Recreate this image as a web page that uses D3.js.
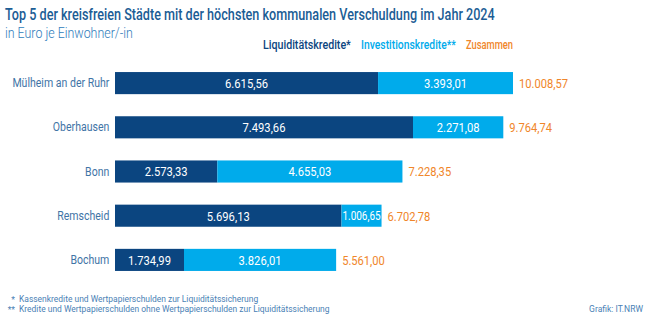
<!DOCTYPE html>
<html><head><meta charset="utf-8">
<script src="https://cdn.jsdelivr.net/npm/d3@7"></script>
<style>body{margin:0;background:#fff}svg{display:block}text{font-family:Roboto,"Open Sans",sans-serif}</style>
</head><body>
<svg id="c" width="650" height="321"></svg>
<script>
const categories = ["Mülheim an der Ruhr","Oberhausen","Bonn","Remscheid","Bochum"];
const liquiditaet = [6615.56, 7493.66, 2573.33, 5696.13, 1734.99];
const investition = [3393.01, 2271.08, 4655.03, 1006.65, 3826.01];
const zusammen = [10008.57, 9764.74, 7228.35, 6702.78, 5561.00];
const seriesNames = ["Liquiditätskredite*","Investitionskredite**","Zusammen"];

const C = {dark:"#0b4580", light:"#00abeb", orange:"#f0862a", label:"#3f74a6", title:"#1b5d95", foot:"#4a7fb5"};
const svg = d3.select("#c");
const fmt = v => { const s = d3.format(",.2f")(v); return s.replace(/,/g,"#").replace(".",",").replace(/#/g,"."); };

// horizontally condense a text about its anchor x (reference uses a narrow typeface)
function squeeze(sel, k){
  sel.each(function(){
    const ax = +d3.select(this).attr("x") || 0;
    const prev = d3.select(this).attr("transform") || "";
    d3.select(this).attr("transform", `${prev} translate(${ax},0) scale(${k},1) translate(${-ax},0)`);
  });
}
const widthOf = sel => sel.node().getComputedTextLength();

const x = d3.scaleLinear().domain([0, 10008.57]).range([115, 513]);
const y = d3.scaleBand().domain(categories).range([61, 282]).paddingInner(0.5).paddingOuter(0.25);

const title = svg.append("text").attr("x",5).attr("y",20).attr("fill",C.title).attr("font-size",16.5).attr("font-weight",500).text("Top 5 der kreisfreien Städte mit der höchsten kommunalen Verschuldung im Jahr 2024");
squeeze(title, 490/widthOf(title));
const sub = svg.append("text").attr("x",5).attr("y",38).attr("fill","#2f7cbb").attr("font-size",14.5).attr("font-weight",300).text("in Euro je Einwohner/-in");
squeeze(sub, 128/widthOf(sub));

const leg = [{t:seriesNames[0],c:C.dark,x:263,w:88},{t:seriesNames[1],c:C.light,x:361,w:95},{t:seriesNames[2],c:C.orange,x:466,w:47}];
svg.selectAll(".leg").data(leg).join("text").attr("class","leg").attr("x",d=>d.x).attr("y",49).attr("fill",d=>d.c).attr("font-size",13).attr("font-weight",500).text(d=>d.t)
  .each(function(d){ squeeze(d3.select(this), d.w/this.getComputedTextLength()); });

const rows = categories.map((c,i)=>({c, a:liquiditaet[i], b:investition[i], t:zusammen[i]}));
const g = svg.append("g");
g.selectAll(".bd").data(rows).join("rect").attr("class","bd").attr("x",x(0)).attr("y",d=>y(d.c)).attr("width",d=>x(d.a)-x(0)).attr("height",y.bandwidth()).attr("fill",C.dark);
g.selectAll(".bl").data(rows).join("rect").attr("class","bl").attr("x",d=>x(d.a)).attr("y",d=>y(d.c)).attr("width",d=>x(d.a+d.b)-x(d.a)).attr("height",y.bandwidth()).attr("fill",C.light);

const mid = d=>y(d.c)+y.bandwidth()/2;
const la = g.selectAll(".la").data(rows).join("text").attr("class","la").attr("x",d=>(x(0)+x(d.a))/2).attr("y",mid).attr("dy","0.36em").attr("text-anchor","middle").attr("fill","#fff").attr("font-size",13.5).text(d=>fmt(d.a));
const kv = 43/widthOf(la);
squeeze(la, kv);
const lb = g.selectAll(".lb").data(rows).join("text").attr("class","lb").attr("x",d=>(x(d.a)+x(d.a+d.b))/2).attr("y",mid).attr("dy","0.36em").attr("text-anchor","middle").attr("fill","#fff").attr("font-size",d=>(x(d.a+d.b)-x(d.a))<60?12:13.5).text(d=>fmt(d.b));
squeeze(lb, kv);
const lt = g.selectAll(".lt").data(rows).join("text").attr("class","lt").attr("x",d=>x(d.t)+6).attr("y",mid).attr("dy","0.36em").attr("fill",C.orange).attr("font-size",13.5).text(d=>fmt(d.t));
squeeze(lt, 49/widthOf(lt));

const ax = d3.axisLeft(y).tickSize(0).tickPadding(7);
const axg = svg.append("g").attr("transform",`translate(${x(0)},0)`).call(ax);
axg.select(".domain").remove();
const at = axg.selectAll("text").attr("fill",C.label).attr("font-size",13).attr("font-family","Roboto");
const ka = 97/widthOf(at);
at.each(function(){ d3.select(this).attr("transform", `scale(${ka},1)`); });

const fn = [{s:"*",t:"Kassenkredite und Wertpapierschulden zur Liquiditätssicherung",y:302.5},{s:"**",t:"Kredite und Wertpapierschulden ohne Wertpapierschulden zur Liquiditätssicherung",y:312.5}];
svg.selectAll(".fs").data(fn).join("text").attr("class","fs").attr("x",15).attr("y",d=>d.y).attr("text-anchor","end").attr("fill",C.foot).attr("font-size",8.5).text(d=>d.s);
const ft = svg.selectAll(".ft").data(fn).join("text").attr("class","ft").attr("x",19).attr("y",d=>d.y).attr("fill",C.foot).attr("font-size",8.5).text(d=>d.t);
squeeze(ft, 311/ft.nodes()[1].getComputedTextLength());
const gr = svg.append("text").attr("x",643).attr("y",312.5).attr("text-anchor","end").attr("fill",C.foot).attr("font-size",8.5).text("Grafik: IT.NRW");
squeeze(gr, 54/widthOf(gr));
</script>
</body></html>
